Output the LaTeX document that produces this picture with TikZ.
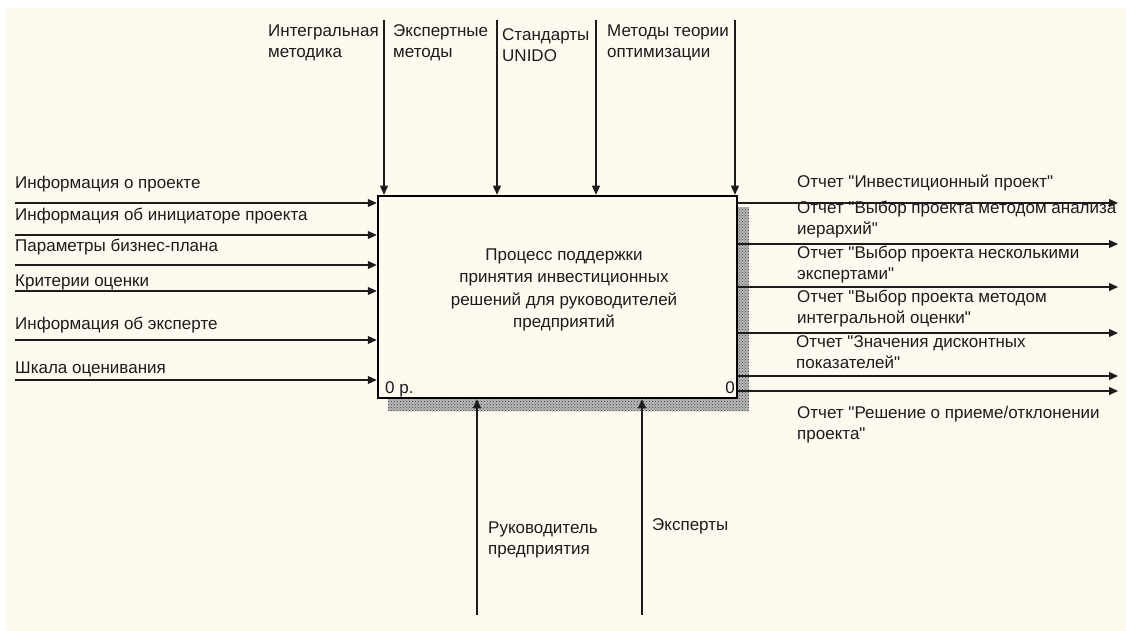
\documentclass[tikz,border=0pt]{standalone}
\usepackage{fontspec}
\setmainfont{Liberation Sans}[Ligatures=TeXOff]
\usetikzlibrary{positioning}
\usetikzlibrary{calc}
\usetikzlibrary{arrows.meta}
\usetikzlibrary{patterns}
\definecolor{bgcream}{RGB}{255,250,240}
\definecolor{inkgray}{RGB}{28,28,28}

\tikzset{
	lbl/.style={inner sep=0pt,anchor=base west,align=left,text=inkgray,font=\fontsize{17}{21}\selectfont},
	arr/.style={line width=1.2pt,draw=inkgray,-{Triangle[length=9pt,width=8pt]}},
	procbox/.style={draw=black,line width=2.5pt,fill=bgcream,minimum width=359pt,minimum height=202pt,inner sep=0pt}
}

\begin{document}
\begin{tikzpicture}[x=1pt,y=-1pt]
	\useasboundingbox (0,0) rectangle (1126,631);
	\fill[bgcream] (6,8) rectangle (1126,631);
	
	% Activity
	\fill[black!28] (388,207) rectangle (749,411);
	\fill[pattern=crosshatch dots,pattern color=black!75] (388,207) rectangle (749,411);
	\node[procbox] (proc) at (557.5,297) {};
	\node[lbl,anchor=center,align=center,font=\fontsize{17}{22.5}\selectfont] (proc text) at (564,290) {Процесс поддержки\\принятия инвестиционных\\решений для руководителей\\предприятий};
	\node[lbl] (proc num) at (385,393) {0 р.};
	\node[lbl,anchor=base east] (proc nr) at (735,393) {0};
	
	% Inputs
	\coordinate (in1) at (15,203);
	\coordinate (in2) at (15,235);
	\coordinate (in3) at (15,265);
	\coordinate (in4) at (15,291);
	\coordinate (in5) at (15,340);
	\coordinate (in6) at (15,380);
	\draw[arr] (in1) -- (in1 -| proc.west);
	\draw[arr] (in2) -- (in2 -| proc.west);
	\draw[arr] (in3) -- (in3 -| proc.west);
	\draw[arr] (in4) -- (in4 -| proc.west);
	\draw[arr] (in5) -- (in5 -| proc.west);
	\draw[arr] (in6) -- (in6 -| proc.west);
	\node[lbl] (info proj) at (15,189) {Информация о проекте};
	\node[lbl] (info init) at (15,220) {Информация об инициаторе проекта};
	\node[lbl] (plan par) at (15,251) {Параметры бизнес-плана};
	\node[lbl] (criteria) at (15,286) {Критерии оценки};
	\node[lbl] (info exp) at (15,329) {Информация об эксперте};
	\node[lbl] (scale) at (15,373) {Шкала оценивания};
	
	% Controls (base = last line)
	\coordinate (ctl1) at (384,20);
	\coordinate (ctl2) at (497,20);
	\coordinate (ctl3) at (596,20);
	\coordinate (ctl4) at (735,20);
	\draw[arr] (ctl1) -- (ctl1 |- proc.north);
	\draw[arr] (ctl2) -- (ctl2 |- proc.north);
	\draw[arr] (ctl3) -- (ctl3 |- proc.north);
	\draw[arr] (ctl4) -- (ctl4 |- proc.north);
	\node[lbl] (integral) at (268,58) {Интегральная\\методика};
	\node[lbl] (expert m) at (393,58) {Экспертные\\методы};
	\node[lbl] (unido) at (502,62) {Стандарты\\UNIDO};
	\node[lbl] (optim) at (607,58) {Методы теории\\оптимизации};
	
	% Outputs
	\coordinate (out1) at (1118,203);
	\coordinate (out2) at (1118,244);
	\coordinate (out3) at (1118,287);
	\coordinate (out4) at (1118,333);
	\coordinate (out5) at (1118,376);
	\coordinate (out6) at (1118,391);
	\draw[arr] (out1 -| proc.east) -- (out1);
	\draw[arr] (out2 -| proc.east) -- (out2);
	\draw[arr] (out3 -| proc.east) -- (out3);
	\draw[arr] (out4 -| proc.east) -- (out4);
	\draw[arr] (out5 -| proc.east) -- (out5);
	\draw[arr] (out6 -| proc.east) -- (out6);
	\node[lbl] (rep invest) at (797,187) {Отчет "Инвестиционный проект"};
	\node[lbl] (rep ahp) at (797,234) {Отчет "Выбор проекта методом анализа\\иерархий"};
	\node[lbl] (rep experts) at (797,279) {Отчет "Выбор проекта несколькими\\экспертами"};
	\node[lbl] (rep integral) at (797,323) {Отчет "Выбор проекта методом\\интегральной оценки"};
	\node[lbl] (rep disc) at (796,368) {Отчет "Значения дисконтных\\показателей"};
	\node[lbl] (rep decision) at (797,439) {Отчет "Решение о приеме/отклонении\\проекта"};
	
	% Mechanisms
	\coordinate (mech1) at (477,615);
	\coordinate (mech2) at (642,615);
	\draw[arr] (mech1) -- (mech1 |- proc.south);
	\draw[arr] (mech2) -- (mech2 |- proc.south);
	\node[lbl] (head) at (488,554) {Руководитель\\предприятия};
	\node[lbl] (experts) at (652,530) {Эксперты};
\end{tikzpicture}
\end{document}
